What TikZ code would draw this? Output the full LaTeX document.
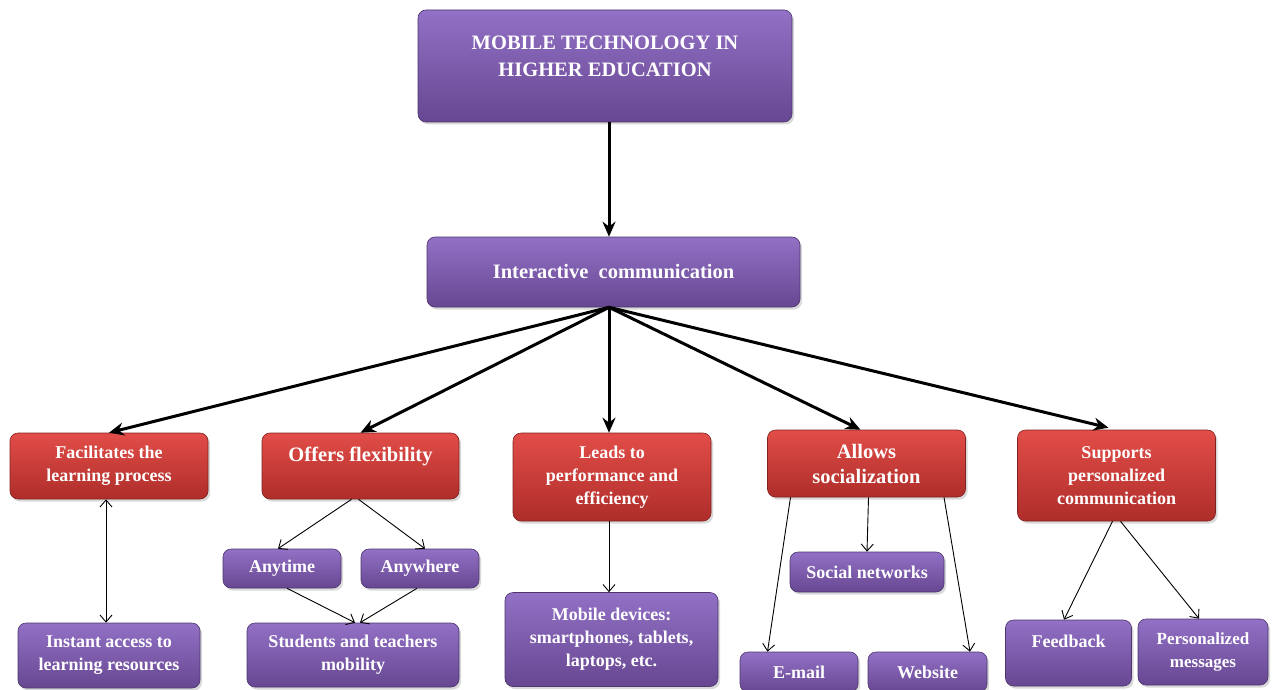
\documentclass[tikz,border=0pt]{standalone}
\usepackage{fontspec}
\setmainfont{Liberation Serif}
\usetikzlibrary{arrows.meta,shadows,calc}
\definecolor{plTop}{HTML}{9271C6}
\definecolor{plBot}{HTML}{674791}
\definecolor{rdTop}{HTML}{E24D48}
\definecolor{rdBot}{HTML}{AE2D2A}
\begin{document}
\begin{tikzpicture}[x=1pt,y=-1pt,
  base/.style={rounded corners=8pt, align=center, text=white, inner sep=0pt,
    font=\bfseries\fontsize{18}{23}\selectfont,
    drop shadow={shadow xshift=2pt, shadow yshift=-2.5pt, opacity=0.3}},
  bigtext/.style={font=\bfseries\fontsize{20.5}{25}\selectfont},
  purplebox/.style={base, top color=plTop, bottom color=plBot, draw=plBot!75!black, line width=0.6pt},
  redbox/.style={base, top color=rdTop, bottom color=rdBot, draw=rdBot!75!black, line width=0.6pt},
  bigarrow/.style={line width=3pt, -{Stealth[length=15pt,width=13pt]}},
  thinarrow/.style={line width=0.9pt, -{Straight Barb[length=7pt,width=12pt]}},
  thinboth/.style={line width=0.9pt, {Straight Barb[length=7pt,width=12pt]}-{Straight Barb[length=7pt,width=12pt]}}]
\useasboundingbox (0,0) rectangle (1279,690);

% top levels
\node[purplebox, minimum width=374pt, minimum height=112pt,
      font=\bfseries\fontsize{20.5}{27}\selectfont] (top) at (605,66)
      {MOBILE TECHNOLOGY IN\\HIGHER EDUCATION\\[-7pt]~};
\node[purplebox, bigtext, minimum width=373pt, minimum height=70pt] (inter) at (613.5,272)
      {Interactive\ \ communication};

% second level
\node[redbox, minimum width=198pt, minimum height=66pt] (facil) at (109,466)
      {Facilitates the\\learning process};
\node[redbox, bigtext, minimum width=197pt, minimum height=66pt, text depth=24pt] (offers) at (360.5,466)
      {Offers flexibility};
\node[redbox, minimum width=198pt, minimum height=88pt] (leads) at (612,477)
      {Leads to\\performance and\\efficiency};
\node[redbox, bigtext, minimum width=198pt, minimum height=67pt] (allows) at (866.5,463.5)
      {Allows\\socialization};
\node[redbox, minimum width=198pt, minimum height=91pt] (supports) at (1116.5,475.5)
      {Supports\\personalized\\communication};

% third level
\node[purplebox, minimum width=182pt, minimum height=65pt] (instant) at (109,655.5)
      {Instant access to\\learning resources};
\node[purplebox, minimum width=118pt, minimum height=39pt] (anytime) at (282,568.5)
      {Anytime};
\node[purplebox, minimum width=118pt, minimum height=39pt] (anywhere) at (420,568.5)
      {Anywhere};
\node[purplebox, minimum width=212pt, minimum height=64pt] (mobility) at (353,655)
      {Students and teachers\\mobility};
\node[purplebox, minimum width=213pt, minimum height=94pt] (devices) at (611.5,639.5)
      {Mobile devices:\\smartphones, tablets,\\laptops, etc.};
\node[purplebox, minimum width=154pt, minimum height=40pt] (social) at (867,572)
      {Social networks};
\node[purplebox, minimum width=118pt, minimum height=40pt] (email) at (799,672)
      {E-mail};
\node[purplebox, minimum width=119pt, minimum height=40pt] (website) at (927.5,672)
      {Website};
\node[purplebox, minimum width=126pt, minimum height=66pt, text depth=24pt] (feedback) at (1068.5,653)
      {Feedback};
\node[purplebox, minimum width=130pt, minimum height=66pt,
      font=\bfseries\fontsize{17}{23}\selectfont] (persmsg) at (1203,652)
      {Personalized\\messages};

% main connectors
\draw[bigarrow] ($(top.south)+(4,0)$) -- ($(inter.north)+(-4.5,0)$);
\coordinate (hub) at ($(inter.south)+(-4.5,0)$);
\draw[bigarrow] (hub) -- (facil.north);
\draw[bigarrow] (hub) -- (offers.north);
\draw[bigarrow] (hub) -- ($(leads.north)+(-3,0)$);
\draw[bigarrow] (hub) -- ($(allows.north)+(-6,0)$);
\draw[bigarrow] (hub) -- ($(supports.north)+(-8,-2)$);

% detail connectors
\draw[thinboth] ($(facil.south)+(-3,0)$) -- ($(instant.north)+(-3,0)$);
\draw[thinarrow] ($(offers.south)+(-9,0)$) -- ($(anytime.north)+(-4,0)$);
\draw[thinarrow] ($(offers.south)+(-2,0)$) -- ($(anywhere.north)+(5,0)$);
\draw[thinarrow] ($(anytime.south)+(5,0)$) -- ($(mobility.north)+(2,0)$);
\draw[thinarrow] ($(anywhere.south)+(-3,0)$) -- ($(mobility.north)+(7,0)$);
\draw[thinarrow] ($(leads.south)+(-3,0)$) -- ($(devices.north)+(-2.5,0)$);
\draw[thinarrow] ($(allows.south)+(-76,0)$) -- ($(email.north)+(-31.5,0)$);
\draw[thinarrow] ($(allows.south)+(2,0)$) -- (social.north);
\draw[thinarrow] ($(allows.south)+(77.5,0)$) -- ($(website.north)+(42.5,0)$);
\draw[thinarrow] ($(supports.south)+(-4,0)$) -- ($(feedback.north)+(-4.5,0)$);
\draw[thinarrow] ($(supports.south)+(4,0)$) -- ($(persmsg.north)+(-4,0)$);
\end{tikzpicture}
\end{document}
